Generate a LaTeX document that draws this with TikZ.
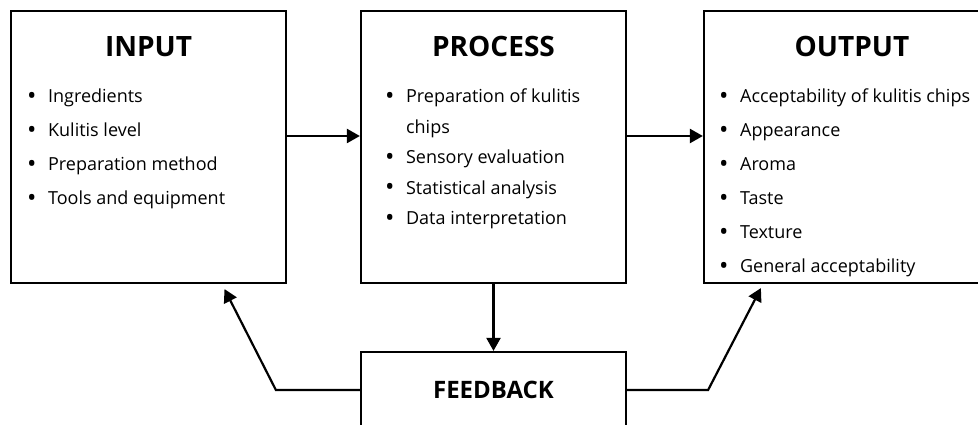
\documentclass[tikz,border=0pt]{standalone}
\usepackage{fontspec}
\setmainfont{Open Sans}
\usetikzlibrary{arrows.meta, positioning}

\newcommand{\bul}{\makebox[21pt][l]{\raisebox{-1.5pt}{\fontsize{25}{25}\selectfont\textbullet}}}

\begin{document}
\begin{tikzpicture}[x=1pt, y=1pt,
    box/.style={draw, line width=2.2pt, inner sep=0pt},
    ttl/.style={font=\fontsize{28}{32}\selectfont\bfseries, inner sep=0pt, anchor=north},
    lst/.style={font=\fontsize{18}{34}\selectfont, align=left, inner sep=0pt, anchor=north west},
    arr/.style={line width=2.2pt, -{Triangle[length=13pt, width=14pt]}}]
  \useasboundingbox (0,0) rectangle (978,424);
  % the three main boxes
  \node[box, minimum width=275pt, minimum height=272pt] (inp)  at (148.5,277) {};
  \node[box, minimum width=265pt, minimum height=272pt] (proc) at (493.5,277) {};
  \node[box, minimum width=296pt, minimum height=272pt] (out)  at (852,277) {};
  \node[box, minimum width=265pt, minimum height=76pt]  (fb)   at (493.5,34) {};
  % titles
  \node[ttl, below=26pt of inp.north]  (inpT)  {INPUT};
  \node[ttl, below=26pt of proc.north] (procT) {PROCESS};
  \node[ttl, below=26pt of out.north]  (outT)  {OUTPUT};
  \node[font=\fontsize{24}{28}\selectfont\bfseries] (fbT) at (fb) {FEEDBACK};
  % bullet lists
  \node[lst, below right=79pt and 17pt of inp.north west] (inpL)
    {\bul Ingredients\\ \bul Kulitis level\\ \bul Preparation method\\ \bul Tools and equipment};
  \node[lst, font=\fontsize{18}{30.5}\selectfont, below right=79pt and 25pt of proc.north west] (procL)
    {\bul Preparation of kulitis\\ \hspace*{21pt}chips\\ \bul Sensory evaluation\\
     \bul Statistical analysis\\ \bul Data interpretation};
  \node[lst, below right=79pt and 16pt of out.north west] (outL)
    {\bul Acceptability of kulitis chips\\ \bul Appearance\\ \bul Aroma\\ \bul Taste\\
     \bul Texture\\ \bul General acceptability};
  % connectors
  \draw[arr] ([yshift=11pt]inp.east) -- ([yshift=11pt]proc.west);
  \draw[arr] ([yshift=11pt]proc.east) -- ([yshift=11pt]out.west);
  \draw[arr] (proc.south) -- (fb.north);
  \draw[arr] (fb.west) -- ++(-84,0) -- ([xshift=76pt, yshift=-5pt]inp.south);
  \draw[arr] (fb.east) -- ++(81,0) -- ([xshift=58pt, yshift=-4pt]out.south west);
\end{tikzpicture}
\end{document}
